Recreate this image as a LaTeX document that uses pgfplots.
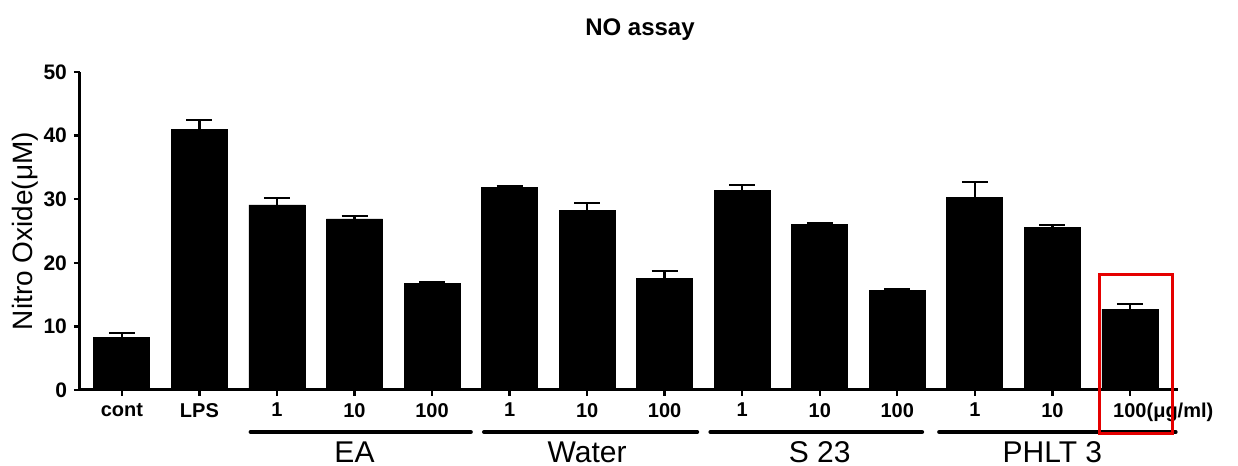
\documentclass[border=0pt]{standalone}
\usepackage{fontspec}
\setmainfont{Liberation Sans}
\usepackage{pgfplots}
\usepackage{pgfplotstable}
\pgfplotsset{compat=1.18}
\pgfplotstableread{
x y e
0 8.3 0.7
1 41.0 1.5
2 29.1 1.1
3 26.9 0.5
4 16.8 0.2
5 31.8 0.2
6 28.3 1.1
7 17.5 1.2
8 31.4 0.8
9 26.1 0.2
10 15.6 0.2
11 30.3 2.4
12 25.6 0.3
13 12.7 0.8
}\datatable
\begin{document}
\begin{tikzpicture}
\useasboundingbox (-40pt,-38pt) rectangle (579pt,195pt);
\begin{axis}[
  at={(0,0)}, anchor=south west,
  scale only axis, width=549pt, height=159pt,
  xmin=-0.54, xmax=13.62, ymin=0, ymax=50,
  axis lines=left,
  axis line style={-, line width=1.5pt},
  clip=false,
  ytick={0,10,20,30,40,50},
  xtick={0,...,13},
  xticklabels={cont,LPS,1,10,100,1,10,100,1,10,100,1,10,{100\rlap{(μg/ml)}}},
  tick align=outside,
  major tick length=3pt,
  tick style={line width=1.2pt, black},
  /pgf/number format/assume math mode=true,
  x tick label style={font=\bfseries\fontsize{10}{12}\selectfont},
  y tick label style={font=\bfseries\fontsize{10.5}{12}\selectfont},
  ylabel={Nitro Oxide(μM)},
  ylabel style={at={(axis description cs:-0.050,0.5)}, anchor=center, font=\fontsize{14}{16}\selectfont},
  title={NO assay},
  title style={at={(axis description cs:0.5,1)}, anchor=center, yshift=15pt, xshift=5.5pt, font=\bfseries\fontsize{12}{14}\selectfont},
]
\addplot[ybar, bar width=28pt, fill=black, draw=black,
  error bars/.cd, y dir=plus, y explicit,
  error bar style={line width=1.2pt, black},
  error mark options={rotate=90, mark size=6.5pt, line width=1.2pt, black}]
  table[x=x, y=y, y error=e] {\datatable};

\draw[line width=2pt, line cap=round] ([yshift=-21pt]axis cs:1.66,0) -- ([yshift=-21pt]axis cs:4.50,0);
\draw[line width=2pt, line cap=round] ([yshift=-21pt]axis cs:4.67,0) -- ([yshift=-21pt]axis cs:7.42,0);
\draw[line width=2pt, line cap=round] ([yshift=-21pt]axis cs:7.59,0) -- ([yshift=-21pt]axis cs:10.32,0);
\draw[line width=2pt, line cap=round] ([yshift=-21pt]axis cs:10.54,0) -- ([yshift=-21pt]axis cs:13.59,0);
\node[font=\fontsize{15}{17}\selectfont] at ([yshift=-31pt]axis cs:3,0) {EA};
\node[font=\fontsize{15}{17}\selectfont] at ([yshift=-31pt]axis cs:6,0) {Water};
\node[font=\fontsize{15}{17}\selectfont] at ([yshift=-31pt]axis cs:9,0) {S 23};
\node[font=\fontsize{15}{17}\selectfont] at ([yshift=-31pt]axis cs:12,0) {PHLT 3};
\draw[red!90!black, line width=1.5pt] (axis cs:12.61,18.1) rectangle ([yshift=-22pt]axis cs:13.55,0);
\end{axis}
\end{tikzpicture}
\end{document}
